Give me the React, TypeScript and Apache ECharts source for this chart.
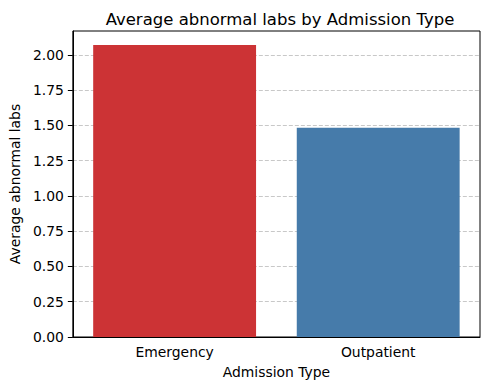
import React, { useEffect, useRef } from "react";
import * as echarts from "echarts";

const categories = ["Emergency", "Outpatient"];
const values = [2.071, 1.484];
const barColors = ["#cc3335", "#467baa"];
const yTicks = [0, 0.25, 0.5, 0.75, 1.0, 1.25, 1.5, 1.75, 2.0];

const FONT = "DejaVu Sans";

export default function App() {
  const ref = useRef<HTMLDivElement>(null);
  useEffect(() => {
    if (!ref.current) return;
    const chart = echarts.init(ref.current, null, { renderer: "svg" });
    chart.setOption({
      animation: false,
      backgroundColor: "#ffffff",
      title: {
        text: "Average abnormal labs by Admission Type",
        left: 275,
        textAlign: "center",
        top: 6,
        textStyle: { fontFamily: FONT, fontSize: 16.5, fontWeight: "normal", color: "#000" },
      },
      grid: {
        left: 70,
        right: 10,
        top: 31,
        bottom: 53,
        show: true,
        borderColor: "#000",
        borderWidth: 1,
        backgroundColor: "transparent",
      },
      xAxis: {
        type: "category",
        data: categories,
        boundaryGap: true,
        name: "Admission Type",
        nameLocation: "middle",
        nameGap: 28,
        nameTextStyle: { fontFamily: FONT, fontSize: 13.9, color: "#000" },
        axisLine: { lineStyle: { color: "#000", width: 1 } },
        axisTick: { alignWithLabel: true, length: 5, lineStyle: { color: "#000" } },
        axisLabel: { fontFamily: FONT, fontSize: 13.9, color: "#000", margin: 8 },
        splitLine: { show: false },
      },
      yAxis: {
        type: "value",
        min: 0,
        max: 2.17,
        interval: 0.25,
        name: "Average abnormal labs",
        nameLocation: "middle",
        nameGap: 48,
        nameTextStyle: { fontFamily: FONT, fontSize: 13.9, color: "#000" },
        axisLine: { show: true, lineStyle: { color: "#000", width: 1 } },
        axisTick: { show: true, length: 5, lineStyle: { color: "#000" }, customValues: yTicks },
        axisLabel: {
          fontFamily: FONT,
          fontSize: 13.9,
          color: "#000",
          margin: 9,
          customValues: yTicks,
          formatter: (v: number) => v.toFixed(2),
        },
        splitLine: { show: true, lineStyle: { color: "#c8c8c8", width: 1, type: [4, 2] } },
      },
      series: [
        {
          type: "bar",
          barWidth: "80%",
          data: values.map((v, i) => ({ value: v, itemStyle: { color: barColors[i] } })),
        },
      ],
    });
    return () => chart.dispose();
  }, []);
  return <div ref={ref} style={{ width: 490, height: 390, margin: -8 }} />;
}
